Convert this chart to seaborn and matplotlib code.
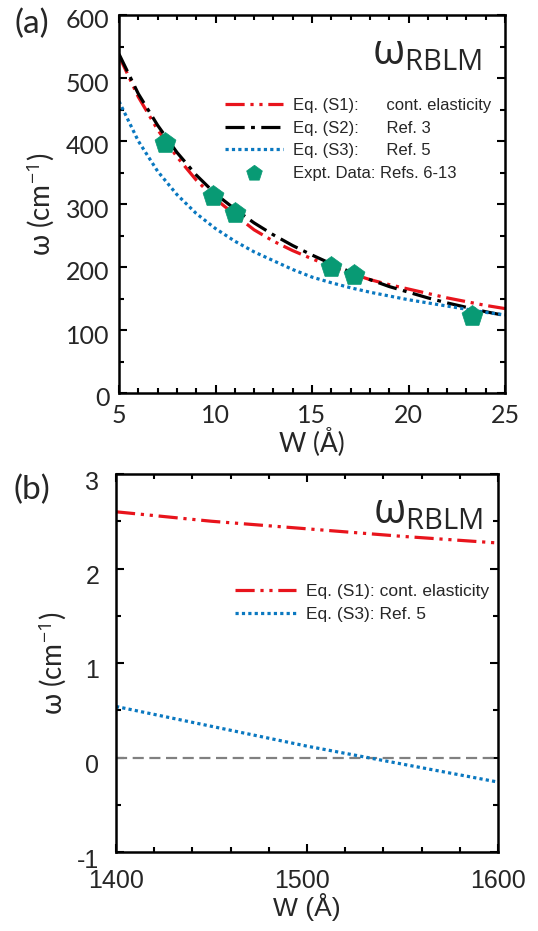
import matplotlib
matplotlib.use("Agg")
import matplotlib.pyplot as plt
import matplotlib.transforms as mtransforms
from matplotlib.ticker import MultipleLocator
import numpy as np
import pandas as pd
import seaborn as sns

# ---- data ----
# panel (a): small widths
w_a = [5, 6, 7, 8, 9, 10, 11, 12, 13, 14, 15, 16, 17, 18, 19, 20, 21, 22, 23, 24, 25]
s1_a = [535, 470, 418, 375, 338, 308, 283, 259, 241, 226, 213, 201, 190, 180, 172, 165, 158, 151, 145, 139, 134]
s2_a = [538, 475, 425, 382, 346, 316, 292, 270, 251, 234, 219, 205, 192, 180, 169, 160, 151, 143, 136, 129, 123]
s3_a = [463, 400, 352, 315, 285, 261, 241, 224, 210, 196, 184, 175, 167, 160, 154, 148, 143, 138, 133, 128, 124]
expt_w = [7.4, 9.85, 11.0, 16.0, 17.2, 23.3]
expt_omega = [397, 312, 286, 200, 188, 122]

# panel (b): large widths
w_b = [1400, 1450, 1500, 1550, 1600]
s1_b = [2.60, 2.50, 2.42, 2.34, 2.27]
s3_b = [0.54, 0.33, 0.12, -0.07, -0.26]

RED = "#e8141c"
BLUE = "#0a78c0"
GREEN = "#089a74"

sns.set_style("ticks")
plt.rcParams["font.family"] = ["Liberation Sans", "DejaVu Sans"]
plt.rcParams["mathtext.fontset"] = "custom"
plt.rcParams["mathtext.rm"] = "Open Sans"
plt.rcParams["mathtext.it"] = "Open Sans"
plt.rcParams["mathtext.sf"] = "Open Sans"
plt.rcParams["axes.unicode_minus"] = False

fig = plt.figure(figsize=(5.38, 9.31), dpi=100)
ax_a = fig.add_axes([119 / 538, 1 - 393 / 931, 386 / 538, 378 / 931])
ax_b = fig.add_axes([116 / 538, 1 - 852 / 931, 382 / 538, 378 / 931])

style_s1 = (0, (6, 1.8, 1, 1.8, 1, 1.8))
style_s2 = (0, (6, 2, 1.2, 2))
style_s3 = (0, (1, 1))

df_a = pd.DataFrame({"W": w_a, "S1": s1_a, "S2": s2_a, "S3": s3_a})
sns.lineplot(data=df_a, x="W", y="S1", ax=ax_a, color=RED, lw=2.3,
             linestyle=style_s1, label="Eq. (S1):      cont. elasticity")
sns.lineplot(data=df_a, x="W", y="S2", ax=ax_a, color="black", lw=2.3,
             linestyle=style_s2, label="Eq. (S2):      Ref. 3")
sns.lineplot(data=df_a, x="W", y="S3", ax=ax_a, color=BLUE, lw=2.3,
             linestyle=style_s3, label="Eq. (S3):      Ref. 5")
sns.scatterplot(x=expt_w, y=expt_omega, ax=ax_a, marker="p", s=250,
                color=GREEN, edgecolor=GREEN, linewidth=0.5, zorder=5,
                label="Expt. Data: Refs. 6-13")

df_b = pd.DataFrame({"W": w_b, "S1": s1_b, "S3": s3_b})
ax_b.axhline(0, color="#808080", lw=1.6, linestyle=(0, (5, 2.5)), zorder=1)
sns.lineplot(data=df_b, x="W", y="S1", ax=ax_b, color=RED, lw=2.3,
             linestyle=style_s1, label="Eq. (S1): cont. elasticity")
sns.lineplot(data=df_b, x="W", y="S3", ax=ax_b, color=BLUE, lw=2.3,
             linestyle=style_s3, label="Eq. (S3): Ref. 5")

# axes limits / ticks
ax_a.set_xlim(5, 25)
ax_a.set_ylim(0, 600)
ax_a.xaxis.set_major_locator(MultipleLocator(5))
ax_a.xaxis.set_minor_locator(MultipleLocator(1))
ax_a.yaxis.set_major_locator(MultipleLocator(100))
ax_a.yaxis.set_minor_locator(MultipleLocator(50))

ax_b.set_xlim(1400, 1600)
ax_b.set_ylim(-1, 3)
ax_b.xaxis.set_major_locator(MultipleLocator(100))
ax_b.xaxis.set_minor_locator(MultipleLocator(20))
ax_b.yaxis.set_major_locator(MultipleLocator(1))
ax_b.yaxis.set_minor_locator(MultipleLocator(0.5))

tick_fonts = {ax_a: "Lato", ax_b: "Liberation Sans"}
pads = {ax_a: (8, 7), ax_b: (12, 12)}
for ax in (ax_a, ax_b):
    for side in ("top", "bottom", "left", "right"):
        ax.spines[side].set_visible(True)
        ax.spines[side].set_linewidth(1.8)
        ax.spines[side].set_color("black")
    ax.tick_params(which="both", direction="in", top=True, right=True,
                   width=1.5, color="black")
    ax.tick_params(which="major", length=6, labelsize=18,
                   labelfontfamily=tick_fonts[ax])
    ax.tick_params(axis="x", which="major", pad=pads[ax][0])
    ax.tick_params(axis="y", which="major", pad=pads[ax][1])
    ax.tick_params(which="minor", length=3.5)
    ax.set_xlabel("W (Å)", fontsize=19, family=tick_fonts[ax], labelpad=0)
    ax.set_ylabel("ω (cm$^{-1}$)", fontsize=20,
                  family=["Lato", "Open Sans", "DejaVu Sans"], labelpad=6)
ax_a.text(0.94, 0.9, r"$\omega_{\mathrm{RBLM}}$", transform=ax_a.transAxes,
          fontsize=30, ha="right", va="center")
ax_b.text(0.96, 0.9, r"$\omega_{\mathrm{RBLM}}$", transform=ax_b.transAxes,
          fontsize=30, ha="right", va="center")

# tick labels of the y axes sit a little low in the original
for ax, dy in ((ax_a, -4), (ax_b, -6)):
    off = mtransforms.ScaledTranslation(0, dy / 100, fig.dpi_scale_trans)
    for lab in ax.get_yticklabels():
        lab.set_transform(lab.get_transform() + off)
# the outer panel (b) x tick labels are pulled inwards in the original
for lab, dx in zip(ax_b.get_xticklabels(), (13, 0, -5)):
    off_x = mtransforms.ScaledTranslation(dx / 100, 0, fig.dpi_scale_trans)
    lab.set_transform(lab.get_transform() + off_x)

ax_a.legend(loc="upper left", bbox_to_anchor=((225 - 119) / 386, 0.78),
            frameon=False, fontsize=12, handlelength=3.5, handletextpad=0.6,
            labelspacing=0.45, borderpad=0, borderaxespad=0, markerscale=0.75)
ax_b.legend(loc="upper left", bbox_to_anchor=((235 - 116) / 382, 0.71),
            frameon=False, fontsize=12.5, handlelength=3.5, handletextpad=0.6,
            labelspacing=0.45, borderpad=0, borderaxespad=0)

fig.text(32 / 538, 1 - 24 / 931, "(a)", fontsize=24, ha="center", va="center",
         family=["Lato", "DejaVu Sans"])
fig.text(32 / 538, 1 - 490 / 931, "(b)", fontsize=24, ha="center", va="center",
         family=["Lato", "DejaVu Sans"])

fig.savefig("out.png", dpi=100)
